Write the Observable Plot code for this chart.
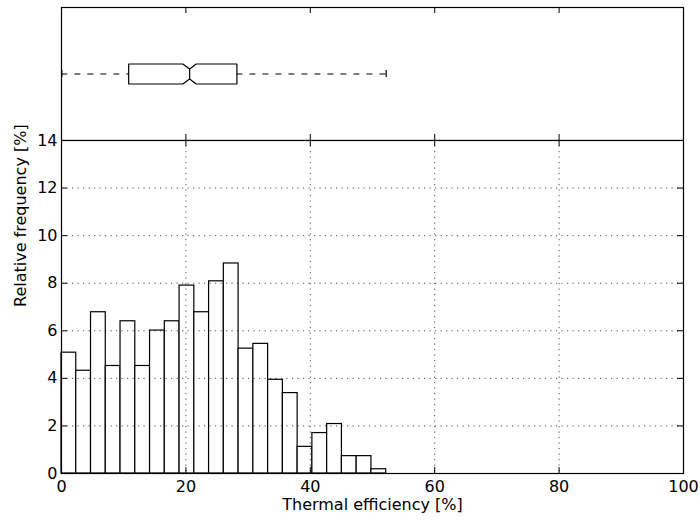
<!DOCTYPE html>
<html><head><meta charset="utf-8">
<script src="https://cdn.jsdelivr.net/npm/d3@7"></script>
<script src="https://cdn.jsdelivr.net/npm/@observablehq/plot@0.6"></script>
<style>
body{margin:0;background:#fff;}
#wrap{position:relative;width:700px;height:525px;overflow:hidden;}
#wrap svg{position:absolute;left:0;top:0;}
</style></head><body><div id="wrap"></div>
<script>
// Histogram: relative frequency [%] per bin (22 equal bins from binLo to binHi)
const freq = [5.08, 4.32, 6.78, 4.52, 6.40, 4.52, 6.01, 6.40, 7.90, 6.78, 8.08, 8.83,
              5.25, 5.45, 3.94, 3.38, 1.12, 1.70, 2.08, 0.73, 0.73, 0.18];
const binLo = 0;
const binHi = 52.2;
// Box plot statistics (thermal efficiency [%])
const whiskerLow = 0.05;
const q1 = 10.8;
const median = 20.6;
const notchLo = 19.5;
const notchHi = 21.65;
const q3 = 28.2;
const whiskerHigh = 52.2;
// Ticks
const xTicks = [0, 20, 40, 60, 80, 100];
const yTicks = [0, 2, 4, 6, 8, 10, 12, 14];
const xLabel = "Thermal efficiency [%]";
const yLabel = "Relative frequency [%]";

const W = 700, H = 525;
const mL = 61, mR = 17, splitY = 140, topY = 7, mB = 52;
const plotW = W - mL - mR;
const histH = H - splitY - mB;
const topH = splitY - topY;
const TICK = 6;
const tkX = TICK * 100 / plotW;       // tick length in x data units
const tkY = TICK * 14 / histH;        // tick length in y data units (hist)
const tkTop = TICK / topH;            // tick length in y data units (box panel)
const FS = 16;
const font = {fontFamily: "DejaVu Sans, sans-serif", fontSize: FS + "px", background: "transparent", color: "black"};
const dots = "1.2,4.3";

const bw = (binHi - binLo) / freq.length;
const bins = freq.map((f, i) => ({x1: binLo + i * bw, x2: binLo + (i + 1) * bw, y: f}));

const hist = Plot.plot({
  width: W, height: H,
  marginTop: splitY, marginBottom: mB, marginLeft: mL, marginRight: mR,
  style: font,
  x: {domain: [0, 100], axis: null},
  y: {domain: [0, 14], axis: null},
  marks: [
    Plot.rectY(bins, {x1: "x1", x2: "x2", y: "y", fill: "white", stroke: "black", strokeWidth: 1.2}),
    Plot.ruleY(yTicks.filter(d => d > 0 && d < 14), {y: d => d, stroke: "black", strokeWidth: 0.7, strokeDasharray: dots}),
    Plot.ruleX(xTicks.filter(d => d > 0 && d < 100), {x: d => d, stroke: "black", strokeWidth: 0.7, strokeDasharray: dots}),
    Plot.ruleY(yTicks, {y: d => d, x1: () => 0, x2: () => tkX, stroke: "black", strokeWidth: 1}),
    Plot.ruleY(yTicks, {y: d => d, x1: () => 100 - tkX, x2: () => 100, stroke: "black", strokeWidth: 1}),
    Plot.ruleX(xTicks, {x: d => d, y1: () => 0, y2: () => tkY, stroke: "black", strokeWidth: 1}),
    Plot.ruleX(xTicks, {x: d => d, y1: () => 14 - tkY, y2: () => 14, stroke: "black", strokeWidth: 1}),
    Plot.frame({stroke: "black", strokeWidth: 1.2}),
    Plot.text(yTicks, {x: () => 0, y: d => d, text: d => String(d), textAnchor: "end", dx: -4, fill: "black", fontSize: FS}),
    Plot.text(xTicks, {x: d => d, y: () => 0, text: d => String(d), dy: 13, fill: "black", fontSize: FS}),
    Plot.text([xLabel], {frameAnchor: "bottom", text: d => d, dy: 36, fill: "black", fontSize: FS}),
    Plot.text([yLabel], {frameAnchor: "left", text: d => d, rotate: -90, dx: -41, fill: "black", fontSize: FS})
  ]
});

// Box panel
const yc = 0.5, boxHalf = 10 / topH, waistHalf = 5 / topH, capHalf = 3.5 / topH;
const boxPts = [
  [q1, yc + boxHalf], [notchLo, yc + boxHalf], [median, yc + waistHalf], [notchHi, yc + boxHalf],
  [q3, yc + boxHalf], [q3, yc - boxHalf], [notchHi, yc - boxHalf], [median, yc - waistHalf],
  [notchLo, yc - boxHalf], [q1, yc - boxHalf], [q1, yc + boxHalf]
].map(([x, y]) => ({x, y}));

const box = Plot.plot({
  width: W, height: splitY,
  marginTop: topY, marginBottom: 0, marginLeft: mL, marginRight: mR,
  style: font,
  x: {domain: [0, 100], axis: null},
  y: {domain: [0, 1], axis: null},
  marks: [
    Plot.ruleY([yc], {y: d => d, x1: () => whiskerLow, x2: () => q1, stroke: "black", strokeWidth: 1.1, strokeDasharray: "6,7"}),
    Plot.ruleY([yc], {y: d => d, x1: () => q3, x2: () => whiskerHigh, stroke: "black", strokeWidth: 1.1, strokeDasharray: "6,7"}),
    Plot.ruleX([whiskerLow, whiskerHigh], {x: d => d, y1: () => yc - capHalf, y2: () => yc + capHalf, stroke: "black", strokeWidth: 1.2}),
    Plot.line(boxPts, {x: "x", y: "y", stroke: "black", strokeWidth: 1.2}),
    Plot.line([{x: median, y: yc - waistHalf}, {x: median, y: yc + waistHalf}], {x: "x", y: "y", stroke: "black", strokeWidth: 1.2}),
    Plot.ruleX(xTicks, {x: d => d, y1: () => 0, y2: () => tkTop, stroke: "black", strokeWidth: 1}),
    Plot.ruleX(xTicks, {x: d => d, y1: () => 1 - tkTop, y2: () => 1, stroke: "black", strokeWidth: 1}),
    Plot.frame({stroke: "black", strokeWidth: 1.2})
  ]
});

const wrap = document.getElementById("wrap");
wrap.appendChild(hist);
wrap.appendChild(box);
</script>
</body></html>
